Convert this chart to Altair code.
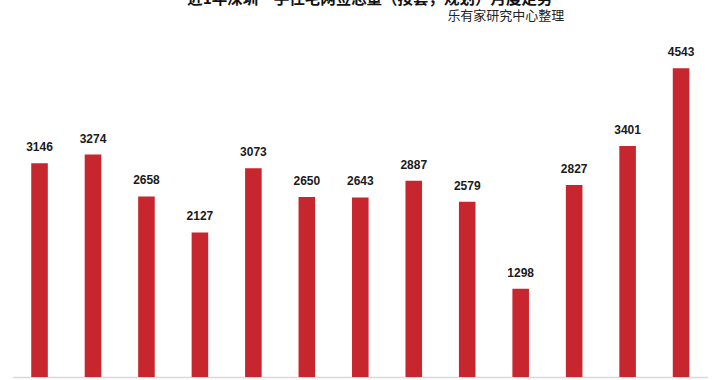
import altair as alt
import pandas as pd

months = ["1月", "2月", "3月", "4月", "5月", "6月", "7月", "8月", "9月", "10月", "11月", "12月", "13月"]
values = [3146, 3274, 2658, 2127, 3073, 2650, 2643, 2887, 2579, 1298, 2827, 3401, 4543]
title_text = "近1年深圳一手住宅网签总量（按套，规划）月度走势"
subtitle_text = "乐有家研究中心整理"

df = pd.DataFrame({"month": months, "value": values})

x = alt.X("month:N", sort=months, title=None,
          scale=alt.Scale(paddingInner=0.69, paddingOuter=0.345),
          axis=alt.Axis(labels=False, ticks=False, domainColor="#d9d9d9", domainWidth=1.5))
y = alt.Y("value:Q", title=None, scale=alt.Scale(domain=[0, 5548], nice=False), axis=None)

bars = alt.Chart(df).mark_bar(color="#C8262E").encode(x=x, y=y)
labels = alt.Chart(df).mark_text(
    baseline="bottom", dy=-9, font="Liberation Sans", fontWeight="bold", fontSize=12, color="#1a1a1a"
).encode(x=x, y=y, text=alt.Text("value:Q", format="d"))

one = pd.DataFrame({"k": [0]})
title = alt.Chart(one).mark_text(
    font="Noto Sans CJK SC", fontWeight="bold", fontSize=15.5, color="#111111", baseline="alphabetic", align="center"
).encode(x=alt.value(357), y=alt.value(4), text=alt.value(title_text))
subtitle = alt.Chart(one).mark_text(
    font="Noto Sans CJK SC", fontSize=13, color="#222222", baseline="middle", align="center"
).encode(x=alt.value(493), y=alt.value(16), text=alt.value(subtitle_text))

chart = alt.layer(bars, labels, title, subtitle).properties(
    width=695, height=377,
    autosize=alt.AutoSizeParams(type="none"),
    padding={"left": 12.8, "top": 0, "right": 0, "bottom": 3},
).configure(background="white").configure_view(stroke=None)

chart.save("out.html", embed_options={"renderer": "svg", "actions": False})
